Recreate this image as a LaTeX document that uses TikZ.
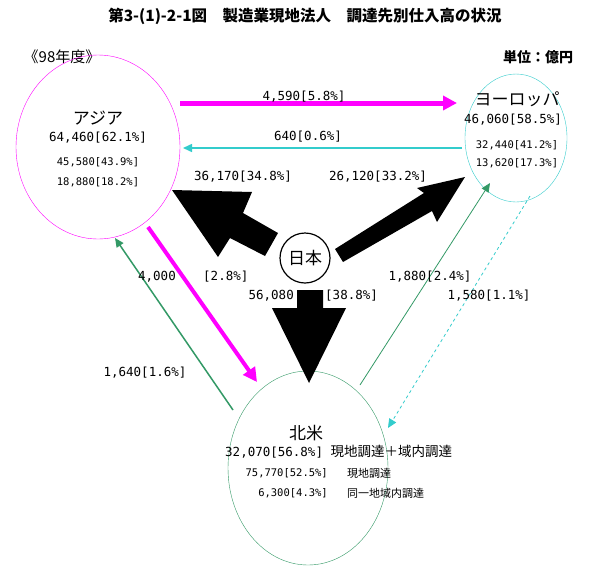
\documentclass[tikz,border=0pt]{standalone}
\usepackage{fontspec}
\setmainfont{Noto Sans CJK JP}
\newfontfamily\mono{DejaVu Sans Mono}
\usetikzlibrary{arrows.meta,calc}
\definecolor{mag}{RGB}{255,0,255}
\definecolor{cy}{RGB}{51,204,204}
\definecolor{gr}{RGB}{51,153,102}
\begin{document}
\begin{tikzpicture}[x=1pt,y=-1pt,
  t/.style={font=\mono\fontsize{12.5}{13}\selectfont,inner sep=0pt},
  s/.style={font=\mono\fontsize{10.5}{11}\selectfont,inner sep=0pt},
  big/.style={font=\fontsize{17}{18}\selectfont,inner sep=0pt},
  fat/.style={fill=black,draw=none}]
\useasboundingbox (0,0) rectangle (610,576);
\fill[white] (0,0) rectangle (610,576);
\node[font=\bfseries\fontsize{15.5}{16}\selectfont] (title) at (305,16) {第3-(1)-2-1図\quad 製造業現地法人\quad 調達先別仕入高の状況};
\node[font=\fontsize{15}{16}\selectfont,inner sep=0pt] (yr) at (62,57) {《98年度》};
\node[font=\bfseries\itshape\fontsize{14}{15}\selectfont,inner sep=0pt] (unit) at (538,57) {単位：億円};
% regions
\draw[mag] (98,147) ellipse [x radius=82,y radius=92];
\coordinate (asia) at (98,147);
\draw[cy] (516,138) ellipse [x radius=51,y radius=64];
\coordinate (eu) at (516,138);
\draw[gr] (308,468) ellipse [x radius=80,y radius=97];
\coordinate (na) at (308,468);
\node[draw,circle,line width=1.2pt,minimum size=50pt,inner sep=0pt,big] (jp) at (305,258) {日本};
% big arrows
\fill[fat] (278,233) -- (243,213) -- (252,192) -- (172,190) -- (218,257) -- (230,238) -- (265,256) -- cycle;
\fill[fat] (335,249) -- (424,193) -- (417,188) -- (465,177) -- (437,222) -- (432,211) -- (343,262) -- cycle;
\fill[fat] (297,290) -- (323,290) -- (323,308) -- (346,308) -- (309,383) -- (272,308) -- (297,308) -- cycle;
% arrows
\coordinate (a1) at (180,103); \coordinate (e1) at (457,103);
\draw[mag,line width=5pt,-{Triangle[length=14pt,width=14pt]}] (a1) -- (e1);
\coordinate (e2) at (462,148); \coordinate (a2) at (183,148);
\draw[cy,line width=1.5pt,-{Triangle[length=9pt,width=8pt]}] (e2) -- (a2);
\coordinate (a3) at (148,227); \coordinate (n3) at (257,382);
\draw[mag,line width=4pt,-{Triangle[length=14pt,width=14pt]}] (a3) -- (n3);
\coordinate (n4) at (233,410); \coordinate (a4) at (115,238);
\draw[gr,line width=1.5pt,-{Triangle[length=9pt,width=8pt]}] (n4) -- (a4);
\coordinate (n5) at (360,385); \coordinate (e5) at (490,183);
\draw[gr,line width=0.8pt,-{Triangle[length=9pt,width=8pt]}] (n5) -- (e5);
\coordinate (e6) at (530,196); \coordinate (n6) at (388,428);
\draw[cy,line width=0.8pt,dashed,-{Triangle[length=9pt,width=8pt]}] (e6) -- (n6);
% labels
\node[big] (lasia) at (98,118) {アジア};
\node[t] (l1) at (98,138) {64,460[62.1\%]};
\node[s] (l2) at (98,162) {45,580[43.9\%]};
\node[s] (l3) at (98,182) {18,880[18.2\%]};
\node[big] (leu) at (517,99) {ヨーロッパ};
\node[t] (l4) at (513,120) {46,060[58.5\%]};
\node[s] (l5) at (517,145) {32,440[41.2\%]};
\node[s] (l6) at (517,163) {13,620[17.3\%]};
\node[big] (lna) at (306,433) {北米};
\node[t,anchor=west] (l7) at (225,452) {32,070[56.8\%] {\rmfamily\fontsize{13.5}{14}\selectfont 現地調達＋域内調達}};
\node[s,anchor=east] (l8) at (328,473) {75,770[52.5\%]};
\node[anchor=west,inner sep=0pt,font=\fontsize{11}{12}\selectfont] (l9) at (347,473) {現地調達};
\node[s,anchor=east] (l10) at (328,493) {6,300[4.3\%]};
\node[anchor=west,inner sep=0pt,font=\fontsize{11}{12}\selectfont] (l11) at (347,493) {同一地域内調達};
\node[t] (f1) at (304,97) {4,590[5.8\%]};
\node[t] (f2) at (308,137) {640[0.6\%]};
\node[t] (f3) at (243,177) {36,170[34.8\%]};
\node[t] (f4) at (378,177) {26,120[33.2\%]};
\node[t,anchor=east] (f5a) at (176,277) {4,000};
\node[t,anchor=west] (f5b) at (203,277) {[2.8\%]};
\node[t,anchor=east] (f6a) at (294,296) {56,080};
\node[t,anchor=west] (f6b) at (325,296) {[38.8\%]};
\node[t] (f7) at (430,277) {1,880[2.4\%]};
\node[t] (f8) at (489,296) {1,580[1.1\%]};
\node[t] (f9) at (145,373) {1,640[1.6\%]};
\end{tikzpicture}
\end{document}
